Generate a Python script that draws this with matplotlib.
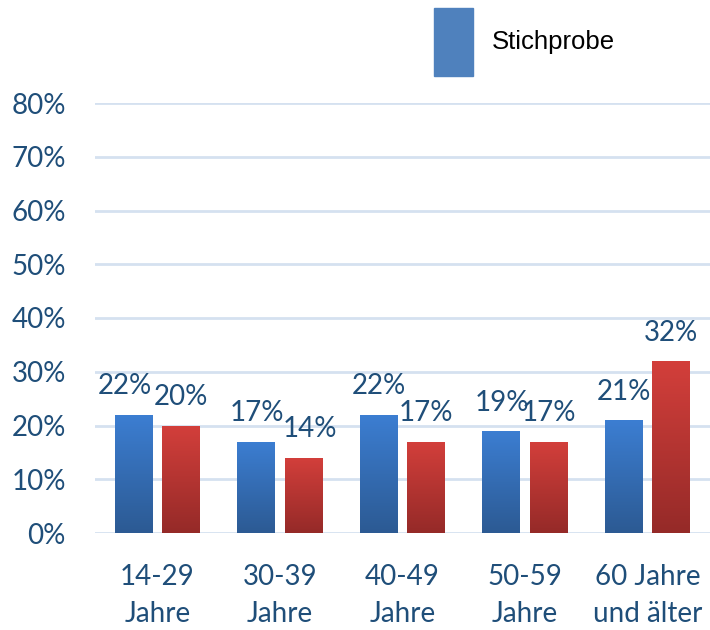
import matplotlib.pyplot as plt
import numpy as np
from matplotlib.patches import Patch
from matplotlib.colors import LinearSegmentedColormap

categories = ['14-29\nJahre', '30-39\nJahre', '40-49\nJahre', '50-59\nJahre', '60 Jahre\nund älter']
stichprobe = [22, 17, 22, 19, 21]
vergleich = [20, 14, 17, 17, 32]

plt.rcParams['font.family'] = ['Lato', 'DejaVu Sans']
txt_color = '#1F4E79'

fig = plt.figure(figsize=(7.1, 6.3), dpi=100)
ax = fig.add_axes([95 / 710, 1 - 533 / 630, 615 / 710, 430 / 630])

x = np.arange(len(categories))
w = 0.31
off = 0.192

blue_cm = LinearSegmentedColormap.from_list('b', ['#2C5A93', '#3C7ED2'])
red_cm = LinearSegmentedColormap.from_list('r', ['#952A28', '#D33F3B'])
grad = np.linspace(0, 1, 256).reshape(-1, 1)


def gradient_bars(xs, vals, cmap):
    bars = ax.bar(xs, vals, w, color='none', zorder=3)
    for b in bars:
        bx, by = b.get_x(), b.get_y()
        im = ax.imshow(grad, cmap=cmap, origin='lower', aspect='auto',
                       extent=[bx, bx + b.get_width(), by, by + b.get_height()], zorder=3)
        im.set_clip_path(b)
    return bars


gradient_bars(x - off, stichprobe, blue_cm)
gradient_bars(x + off, vergleich, red_cm)

# Datenbeschriftungen
lab_shift_b = [-9, 0, 0, 0, 0]
lab_shift_r = [0, 6, 0, 0, 0]
for i in range(len(categories)):
    ax.annotate(f'{stichprobe[i]}%', (x[i] - off, stichprobe[i]), xytext=(lab_shift_b[i] * 0.72, 11),
                textcoords='offset points', ha='center', va='bottom', fontsize=20, color=txt_color)
    ax.annotate(f'{vergleich[i]}%', (x[i] + off, vergleich[i]), xytext=(lab_shift_r[i] * 0.72, 11),
                textcoords='offset points', ha='center', va='bottom', fontsize=20, color=txt_color)

ax.set_xlim(-0.51, 4.51)
ax.set_ylim(0, 80)
ax.set_yticks(range(0, 81, 10))
ax.set_yticklabels([f'{v}%' for v in range(0, 81, 10)])
ax.set_xticks(x)
ax.set_xticklabels(categories, linespacing=1.55)
ax.tick_params(axis='both', length=0, labelsize=20, labelcolor=txt_color)
ax.tick_params(axis='y', pad=21)
ax.tick_params(axis='x', pad=22)
ax.grid(axis='y', color='#D5E1F0', linewidth=2, zorder=0)
ax.set_axisbelow(True)
for s in ax.spines.values():
    s.set_visible(False)

fig.legend(handles=[Patch(color='#4F81BD', label='Stichprobe')], loc='center left',
           bbox_to_anchor=(413 / 710, 1 - 42 / 630), frameon=False, handlelength=1.52,
           handleheight=3.75, handletextpad=0.73, borderpad=0.3,
           prop={'family': 'Liberation Sans', 'size': 18.5})

fig.savefig('out.png', dpi=100)
